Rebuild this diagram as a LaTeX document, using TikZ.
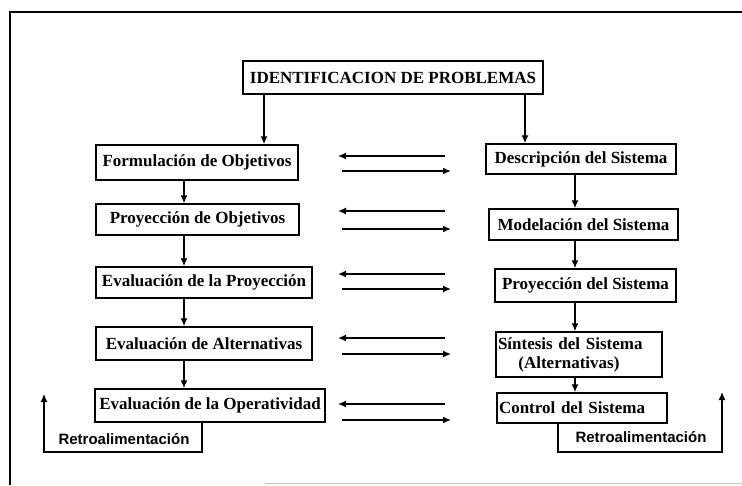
\documentclass[tikz,border=0pt]{standalone}
\usepackage{fontspec}
\setmainfont{Liberation Serif}
\setsansfont{Liberation Sans}
\usetikzlibrary{arrows.meta}

\begin{document}
\begin{tikzpicture}[x=1pt,y=-1pt,
    caja/.style={draw,line width=1.5pt,inner sep=2pt,font=\bfseries\fontsize{17}{19}\selectfont},
    flecha/.style={line width=1.4pt,-{Latex[length=8pt,width=7pt]}},
    retro/.style={font=\sffamily\bfseries\fontsize{15}{17}\selectfont}]
  \useasboundingbox (0,0) rectangle (742,485);
  % marco
  \draw[line width=1.6pt] (742,12) -- (10,12) -- (10,485);
  \draw[gray!45,line width=1pt] (265,483) -- (742,483);
  % columnas
  \coordinate (xa) at (264,0);
  \coordinate (xb) at (525,0);
  \coordinate (xl) at (184,0);
  \coordinate (xr) at (575,0);
  \node[caja,line width=2.6pt,minimum width=300,minimum height=33] (idp) at (393,77.5) {IDENTIFICACION DE PROBLEMAS};
  % objetivos
  \node[caja,minimum width=202,minimum height=35] (obj1) at (197,162.5) {Formulación de Objetivos};
  \node[caja,minimum width=203,minimum height=31] (obj2) at (197.5,219.5) {Proyección de Objetivos};
  \node[caja,minimum width=216,minimum height=31] (obj3) at (204,282.5) {Evaluación de la Proyección};
  \node[caja,minimum width=216,minimum height=33] (obj4) at (204,343.5) {Evaluación de Alternativas};
  \node[caja,minimum width=230,minimum height=33] (obj5) at (210,405.5) {Evaluación de la Operatividad};
  % sistema
  \node[caja,minimum width=190,minimum height=30] (sis1) at (581,159) {Descripción del Sistema};
  \node[caja,minimum width=189,minimum height=31] (sis2) at (583.5,224.5) {Modelación del Sistema};
  \node[caja,minimum width=181,minimum height=33] (sis3) at (585.5,285.5) {Proyección del Sistema};
  \node[caja,minimum height=45,text width=162,align=left] (sis4) at (579,354.5) {Síntesis del Sistema\\\hspace*{1.2em}(Alternativas)};
  \node[caja,minimum height=30,text width=166,align=left] (sis5) at (582,408) {Control del Sistema};
  % flechas verticales
  \draw[flecha] (idp.south -| xa) -- (obj1.north -| xa);
  \draw[flecha] (idp.south -| xb) -- (sis1.north -| xb);
  \foreach \a/\b in {obj1/obj2,obj2/obj3,obj3/obj4,obj4/obj5}
    \draw[flecha] (\a.south -| xl) -- (\b.north -| xl);
  \foreach \a/\b in {sis1/sis2,sis2/sis3,sis3/sis4,sis4/sis5}
    \draw[flecha] (\a.south -| xr) -- (\b.north -| xr);
  % flechas de intercambio
  \foreach \i/\ya/\yb in {1/156/171,2/211/229,3/274/289,4/338/354,5/404/420}{
    \coordinate (ia\i) at (445,\ya);
    \coordinate (ib\i) at (338,\ya);
    \coordinate (da\i) at (342,\yb);
    \coordinate (db\i) at (451,\yb);
    \draw[flecha] (ia\i) -- (ib\i);
    \draw[flecha] (da\i) -- (db\i);
  }
  % retroalimentacion
  \coordinate (rl) at (202,452);
  \coordinate (rl2) at (44,452);
  \coordinate (rl3) at (44,394);
  \coordinate (rr) at (558,452);
  \coordinate (rr2) at (722,452);
  \coordinate (rr3) at (722,392);
  \draw[flecha,line width=1.1pt] (obj5.south -| rl) -- (rl) -- (rl2) -- (rl3);
  \draw[flecha,line width=1.1pt] (sis5.south -| rr) -- (rr) -- (rr2) -- (rr3);
  \node[retro] (ret1) at (124,439) {Retroalimentación};
  \node[retro] (ret2) at (641,437) {Retroalimentación};
\end{tikzpicture}
\end{document}
